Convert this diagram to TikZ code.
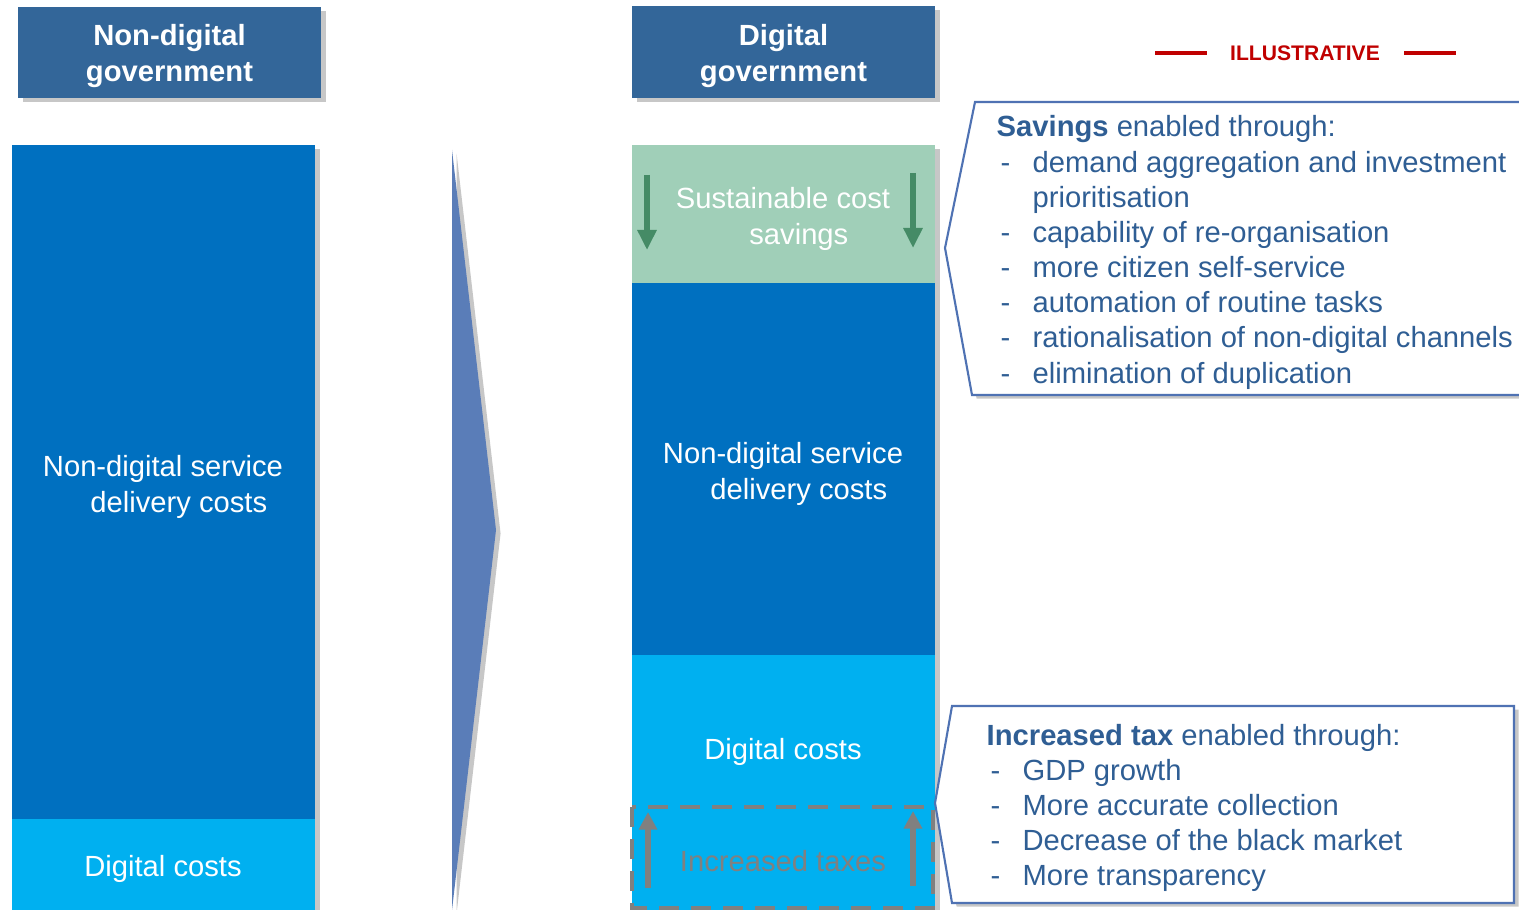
\documentclass[tikz,border=0pt]{standalone}
\usepackage{fontspec}
\setmainfont{Liberation Sans}
\usetikzlibrary{arrows.meta}
\usetikzlibrary{shadows}
\definecolor{headblue}{HTML}{336699}
\definecolor{darkblue}{HTML}{0070C0}
\definecolor{lightblue}{HTML}{00B0F0}
\definecolor{savegreen}{HTML}{A0CFB8}
\definecolor{arrowgreen}{HTML}{458B66}
\definecolor{chevblue}{HTML}{5A7DB8}
\definecolor{lineblue}{HTML}{4F72B3}
\definecolor{textblue}{HTML}{2F5E94}
\definecolor{illred}{HTML}{C00000}
\definecolor{taxgray}{HTML}{808080}
\tikzset{% styles of the chart
   soft shadow/.style={drop shadow={shadow xshift=1.3pt, shadow yshift=-1pt, opacity=0.22, fill=black}},
   headtext/.style={font=\fontsize{8.3}{10}\selectfont\bfseries, text=white, align=center},
   bartext/.style={font=\fontsize{8.3}{10}\selectfont, text=white, align=center},
   calltext/.style={font=\fontsize{8.3}{10}\selectfont, text=textblue, anchor=base west, inner sep=0pt},
   down arrow/.style={-{Triangle[width=5.2pt, length=5.7pt]}, line width=1.7pt, arrowgreen},
   up arrow/.style={-{Triangle[width=5pt, length=5pt]}, line width=1.8pt, taxgray}
}

\begin{document}
\begin{tikzpicture}[x=0.01cm, y=-0.01cm]
\fill[white] (0,0) rectangle (1519,910);
\useasboundingbox (0,0) rectangle (1519,910);
\clip (0,0) rectangle (1519,910);

% headers
\fill[headblue, soft shadow] (18,7) rectangle (321,98);
\node[headtext] (headL) at (169.5,56) {Non-digital\\government};
\fill[headblue, soft shadow] (632,6) rectangle (935,98);
\node[headtext] (headR) at (783.5,56) {Digital\\government};

% left column
\fill[darkblue, soft shadow] (12,145) rectangle (315,819);
\fill[lightblue, soft shadow] (12,819) rectangle (315,912);
\node[bartext] (nondigL) at (163,487) {Non-digital service\\\hspace*{9pt}delivery costs};
\node[bartext] (digL) at (163,869) {Digital costs};

% chevron
\fill[chevblue, soft shadow] (452,150) -- (496,530) -- (452,910) -- cycle;

% right column
\fill[savegreen, soft shadow] (632,145) rectangle (935,283);
\fill[darkblue, soft shadow] (632,283) rectangle (935,655);
\fill[lightblue, soft shadow] (632,655) rectangle (935,912);
\node[bartext] (saveR) at (783,219) {Sustainable cost\\\hspace*{9pt}savings};
\node[bartext] (nondigR) at (783,474) {Non-digital service\\\hspace*{9pt}delivery costs};
\node[bartext] (digR) at (783,752) {Digital costs};
\node[bartext, text=taxgray] (taxR) at (783,861) {Increased taxes};
\draw[taxgray, line width=1.4pt, dash pattern=on 5.7pt off 3.4pt] (632,807) rectangle (933,908);

\coordinate (gL1) at (647,175);
\coordinate (gL2) at (647,250);
\coordinate (gR1) at (913,173);
\coordinate (gR2) at (913,248);
\draw[down arrow] (gL1) -- (gL2);
\draw[down arrow] (gR1) -- (gR2);
\coordinate (tL1) at (648,888);
\coordinate (tL2) at (648,812);
\coordinate (tR1) at (913,886);
\coordinate (tR2) at (913,811);
\draw[up arrow] (tL1) -- (tL2);
\draw[up arrow] (tR1) -- (tR2);

% illustrative
\node[font=\fontsize{6}{7}\selectfont\bfseries, text=illred] (illus) at (1305,53) {ILLUSTRATIVE};
\draw[illred, line width=1pt] (1155,53) -- (1207,53);
\draw[illred, line width=1pt] (1404,53) -- (1456,53);

% callouts
\draw[lineblue, line width=0.6pt, fill=white, soft shadow] (975,102) -- (1530,102) -- (1530,395) -- (972,395) -- (945,248) -- cycle;
\node[calltext] (savings) at (996,137) {\begin{tabular}[t]{@{\hspace{1.1pt}}p{9.1pt}@{}l@{}}
\multicolumn{2}{@{}l@{}}{\textbf{Savings} enabled through:}\\
- & demand aggregation and investment\\
  & prioritisation\\
- & capability of re-organisation\\
- & more citizen self-service\\
- & automation of routine tasks\\
- & rationalisation of non-digital channels\\
- & elimination of duplication
\end{tabular}};

\draw[lineblue, line width=0.6pt, fill=white, soft shadow] (952,706) -- (1514,706) -- (1514,903) -- (952,903) -- (935,803) -- cycle;
\node[calltext] (taxes) at (986,745) {\begin{tabular}[t]{@{\hspace{1.1pt}}p{9.1pt}@{}l@{}}
\multicolumn{2}{@{}l@{}}{\textbf{Increased tax} enabled through:}\\
- & GDP growth\\
- & More accurate collection\\
- & Decrease of the black market\\
- & More transparency
\end{tabular}};
\end{tikzpicture}
\end{document}
